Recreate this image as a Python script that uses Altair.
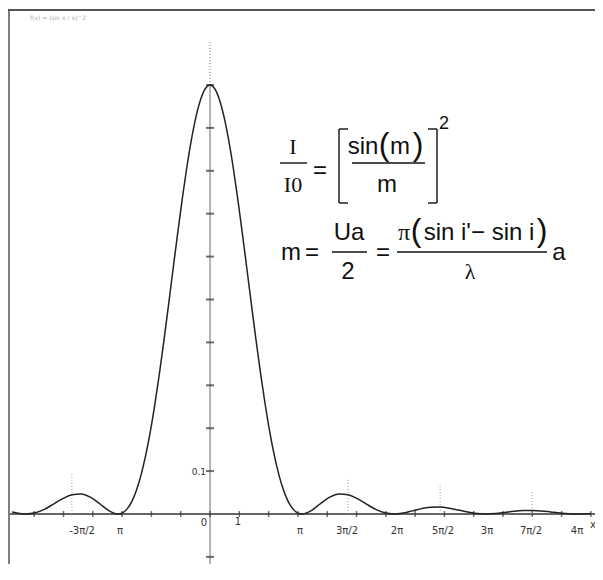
import altair as alt
import pandas as pd

# ---------------- data (x in units of pi, intensity I/I0) ----------------
curve_u = [-2.15, -2.1, -2.0, -1.9, -1.8, -1.7, -1.6, -1.5, -1.4, -1.3, -1.2, -1.1,
           -1.0, -0.95, -0.9, -0.85, -0.8, -0.75, -0.7, -0.65, -0.6, -0.55, -0.5,
           -0.45, -0.4, -0.35, -0.3, -0.25, -0.2, -0.15, -0.1, -0.05, 0.0,
           0.05, 0.1, 0.15, 0.2, 0.25, 0.3, 0.35, 0.4, 0.45, 0.5, 0.55, 0.6,
           0.65, 0.7, 0.75, 0.8, 0.85, 0.9, 0.95, 1.0,
           1.1, 1.2, 1.3, 1.4, 1.5, 1.6, 1.7, 1.8, 1.9, 2.0,
           2.1, 2.2, 2.3, 2.4, 2.5, 2.6, 2.7, 2.8, 2.9, 3.0,
           3.1, 3.2, 3.3, 3.4, 3.5, 3.6, 3.7, 3.8, 3.9, 4.0, 4.1, 4.13]
curve_i = [0.0045, 0.0022, 0.0, 0.0027, 0.0108, 0.0229, 0.0358, 0.0450, 0.0468, 0.0392, 0.0243, 0.0080,
           0.0, 0.0027, 0.0119, 0.0289, 0.0547, 0.0901, 0.1353, 0.1904, 0.2546, 0.3267, 0.4053,
           0.4881, 0.5728, 0.6566, 0.7368, 0.8106, 0.8751, 0.9282, 0.9675, 0.9918, 1.0,
           0.9918, 0.9675, 0.9282, 0.8751, 0.8106, 0.7368, 0.6566, 0.5728, 0.4881, 0.4053, 0.3267, 0.2546,
           0.1904, 0.1353, 0.0901, 0.0547, 0.0289, 0.0119, 0.0027, 0.0,
           0.0080, 0.0243, 0.0392, 0.0468, 0.0450, 0.0358, 0.0229, 0.0108, 0.0027, 0.0,
           0.0022, 0.0072, 0.0125, 0.0159, 0.0162, 0.0136, 0.0091, 0.0045, 0.0011, 0.0,
           0.0010, 0.0034, 0.0061, 0.0079, 0.0083, 0.0071, 0.0048, 0.0024, 0.0006, 0.0, 0.0006, 0.0009]

# tick positions: every radian on x, every 0.1 on y
xtick_rad = list(range(-6, 14))
ytick_v = [-0.1, 0.1, 0.2, 0.3, 0.4, 0.5, 0.6, 0.7, 0.8, 0.9, 1.0]

# dotted guide lines above the side lobes
dot_u = [-1.5, 1.5, 2.5, 3.5]
dot_top = [0.093, 0.084, 0.070, 0.054]

# x-axis tick labels
lab_text = ["-3π/2", "π", "π", "3π/2", "2π", "5π/2", "3π", "7π/2", "4π"]
lab_u = [-1.39, -0.978, 0.978, 1.488, 2.031, 2.531, 3.009, 3.487, 3.987]

XDOM = [-2.1945, 4.1825]
YDOM = [-0.1166, 1.1795]
W, H = 587, 556

xs = alt.Scale(domain=XDOM, nice=False, zero=False)
ys = alt.Scale(domain=YDOM, nice=False, zero=False)

curve_df = pd.DataFrame({"u": curve_u, "i": curve_i})
xt_df = pd.DataFrame({"u": [m / 3.141592653589793 for m in xtick_rad], "v": 0.0})
yt_df = pd.DataFrame({"u": 0.0, "v": ytick_v})
dot_df = pd.DataFrame({"u": dot_u, "v0": 0.0, "v1": dot_top})
lab_df = pd.DataFrame({"u": lab_u, "v": -0.040, "t": lab_text})
misc_df = pd.DataFrame({"u": [-0.065, 0.304, 4.161], "v": [-0.021, -0.019, -0.026], "t": ["0", "1", "x"]})
axis_x_df = pd.DataFrame({"u0": [-2.173], "u1": [4.2], "v": [0.0]})
axis_y_df = pd.DataFrame({"u": [0.0], "v0": [-0.12], "v1": [1.0]})
axis_y_top_df = pd.DataFrame({"u": [0.0], "v0": [1.0], "v1": [1.105]})
lab01_df = pd.DataFrame({"u": [-0.043], "v": [0.098], "t": ["0.1"]})
one = pd.DataFrame({"k": [0]})  # single row for annotation marks

X = lambda f: alt.X(f, type="quantitative", scale=xs, axis=None)
Y = lambda f: alt.Y(f, type="quantitative", scale=ys, axis=None)

layers = []

# x axis
layers.append(alt.Chart(axis_x_df).mark_rule(color="#333", strokeWidth=1.6).encode(
    x=X("u0"), x2="u1", y=Y("v")))
# y axis
layers.append(alt.Chart(axis_y_df).mark_rule(color="#777", strokeWidth=1.1).encode(
    x=X("u"), y=Y("v0"), y2="v1"))
layers.append(alt.Chart(axis_y_top_df).mark_rule(color="#888", strokeWidth=1.1, strokeDash=[1, 2]).encode(
    x=X("u"), y=Y("v0"), y2="v1"))
# ticks
layers.append(alt.Chart(xt_df).mark_tick(color="#333", size=6, thickness=1.5, orient="vertical").encode(
    x=X("u"), y=Y("v")))
layers.append(alt.Chart(yt_df).mark_tick(color="#333", size=8, thickness=2, orient="horizontal").encode(
    x=X("u"), y=Y("v")))
# dotted guides
layers.append(alt.Chart(dot_df).mark_rule(color="#999", strokeWidth=1, strokeDash=[1, 2]).encode(
    x=X("u"), y=Y("v0"), y2="v1"))
# curve
layers.append(alt.Chart(curve_df).mark_line(color="#222", strokeWidth=1.5, interpolate="monotone").encode(
    x=X("u"), y=Y("i")))
# axis labels
layers.append(alt.Chart(lab_df).mark_text(font="DejaVu Sans", fontSize=10, color="#333", baseline="middle").encode(
    x=X("u"), y=Y("v"), text="t:N"))
layers.append(alt.Chart(misc_df).mark_text(font="DejaVu Sans", fontSize=10, color="#333", baseline="middle").encode(
    x=X("u"), y=Y("v"), text="t:N"))
layers.append(alt.Chart(lab01_df).mark_text(font="DejaVu Sans", fontSize=9, color="#333", baseline="middle", align="right").encode(
    x=X("u"), y=Y("v"), text="t:N"))

# ---------------- formula annotation (pixel placement) ----------------
SANS = "Liberation Sans"
SERIF = "Liberation Serif"
formula_parts = [
    # text, x, y, size, font
    ("I", 285, 139, 22, SERIF),
    ("I0", 285, 177, 22, SERIF),
    ("=", 312, 163, 24, SANS),
    ("sin", 355, 139, 24, SANS),
    ("(", 376, 137, 32, SANS),
    ("m", 392, 139, 24, SANS),
    (")", 410, 137, 32, SANS),
    ("m", 379, 177, 24, SANS),
    ("2", 436, 116, 18, SANS),
    ("m", 283, 245, 24, SANS),
    ("=", 304, 245, 24, SANS),
    ("Ua", 341, 225, 24, SANS),
    ("2", 340, 264, 24, SANS),
    ("=", 375, 245, 24, SANS),
    ("π", 396, 225, 24, SERIF),
    ("(", 408, 223, 32, SANS),
    ("sin i'− sin i", 471, 225, 24, SANS),
    (")", 534, 223, 32, SANS),
    ("λ", 462, 264, 22, SERIF),
    ("a", 551, 245, 24, SANS),
]
for t, px, py, fs, fnt in formula_parts:
    layers.append(alt.Chart(one).mark_text(text=t, font=fnt, fontSize=fs, color="#111",
                                           baseline="middle", align="center").encode(
        x=alt.value(px), y=alt.value(py)))

# fraction bars and brackets
rules = [
    (272, 299, 155, 155),
    (344, 417, 155, 155),
    (324, 359, 244, 244),
    (389, 539, 244, 244),
    (331, 331, 121, 195), (331, 340, 121, 121), (331, 340, 195, 195),
    (429, 429, 121, 195), (420, 429, 121, 121), (420, 429, 195, 195),
]
for x1, x2, y1, y2 in rules:
    layers.append(alt.Chart(one).mark_rule(color="#111", strokeWidth=1.4).encode(
        x=alt.value(x1), x2=alt.value(x2), y=alt.value(y1), y2=alt.value(y2)))

# frame
layers.append(alt.Chart(one).mark_rule(color="#555", strokeWidth=2).encode(
    x=alt.value(0), x2=alt.value(W), y=alt.value(2), y2=alt.value(2)))
layers.append(alt.Chart(one).mark_rule(color="#555", strokeWidth=1.5).encode(
    x=alt.value(1), x2=alt.value(1), y=alt.value(2), y2=alt.value(H)))
# faint header text
layers.append(alt.Chart(one).mark_text(text="f(x) = (sin x / x)^2", font="DejaVu Sans", fontSize=6,
                                       color="#aaa", align="left", baseline="middle").encode(
    x=alt.value(22), y=alt.value(10)))

chart = alt.layer(*layers).properties(
    width=W, height=H, padding=0, autosize=alt.AutoSizeParams(type="none"), background="white"
).configure_view(stroke=None)

chart.save("out.html", embed_options={"renderer": "svg", "actions": False})
